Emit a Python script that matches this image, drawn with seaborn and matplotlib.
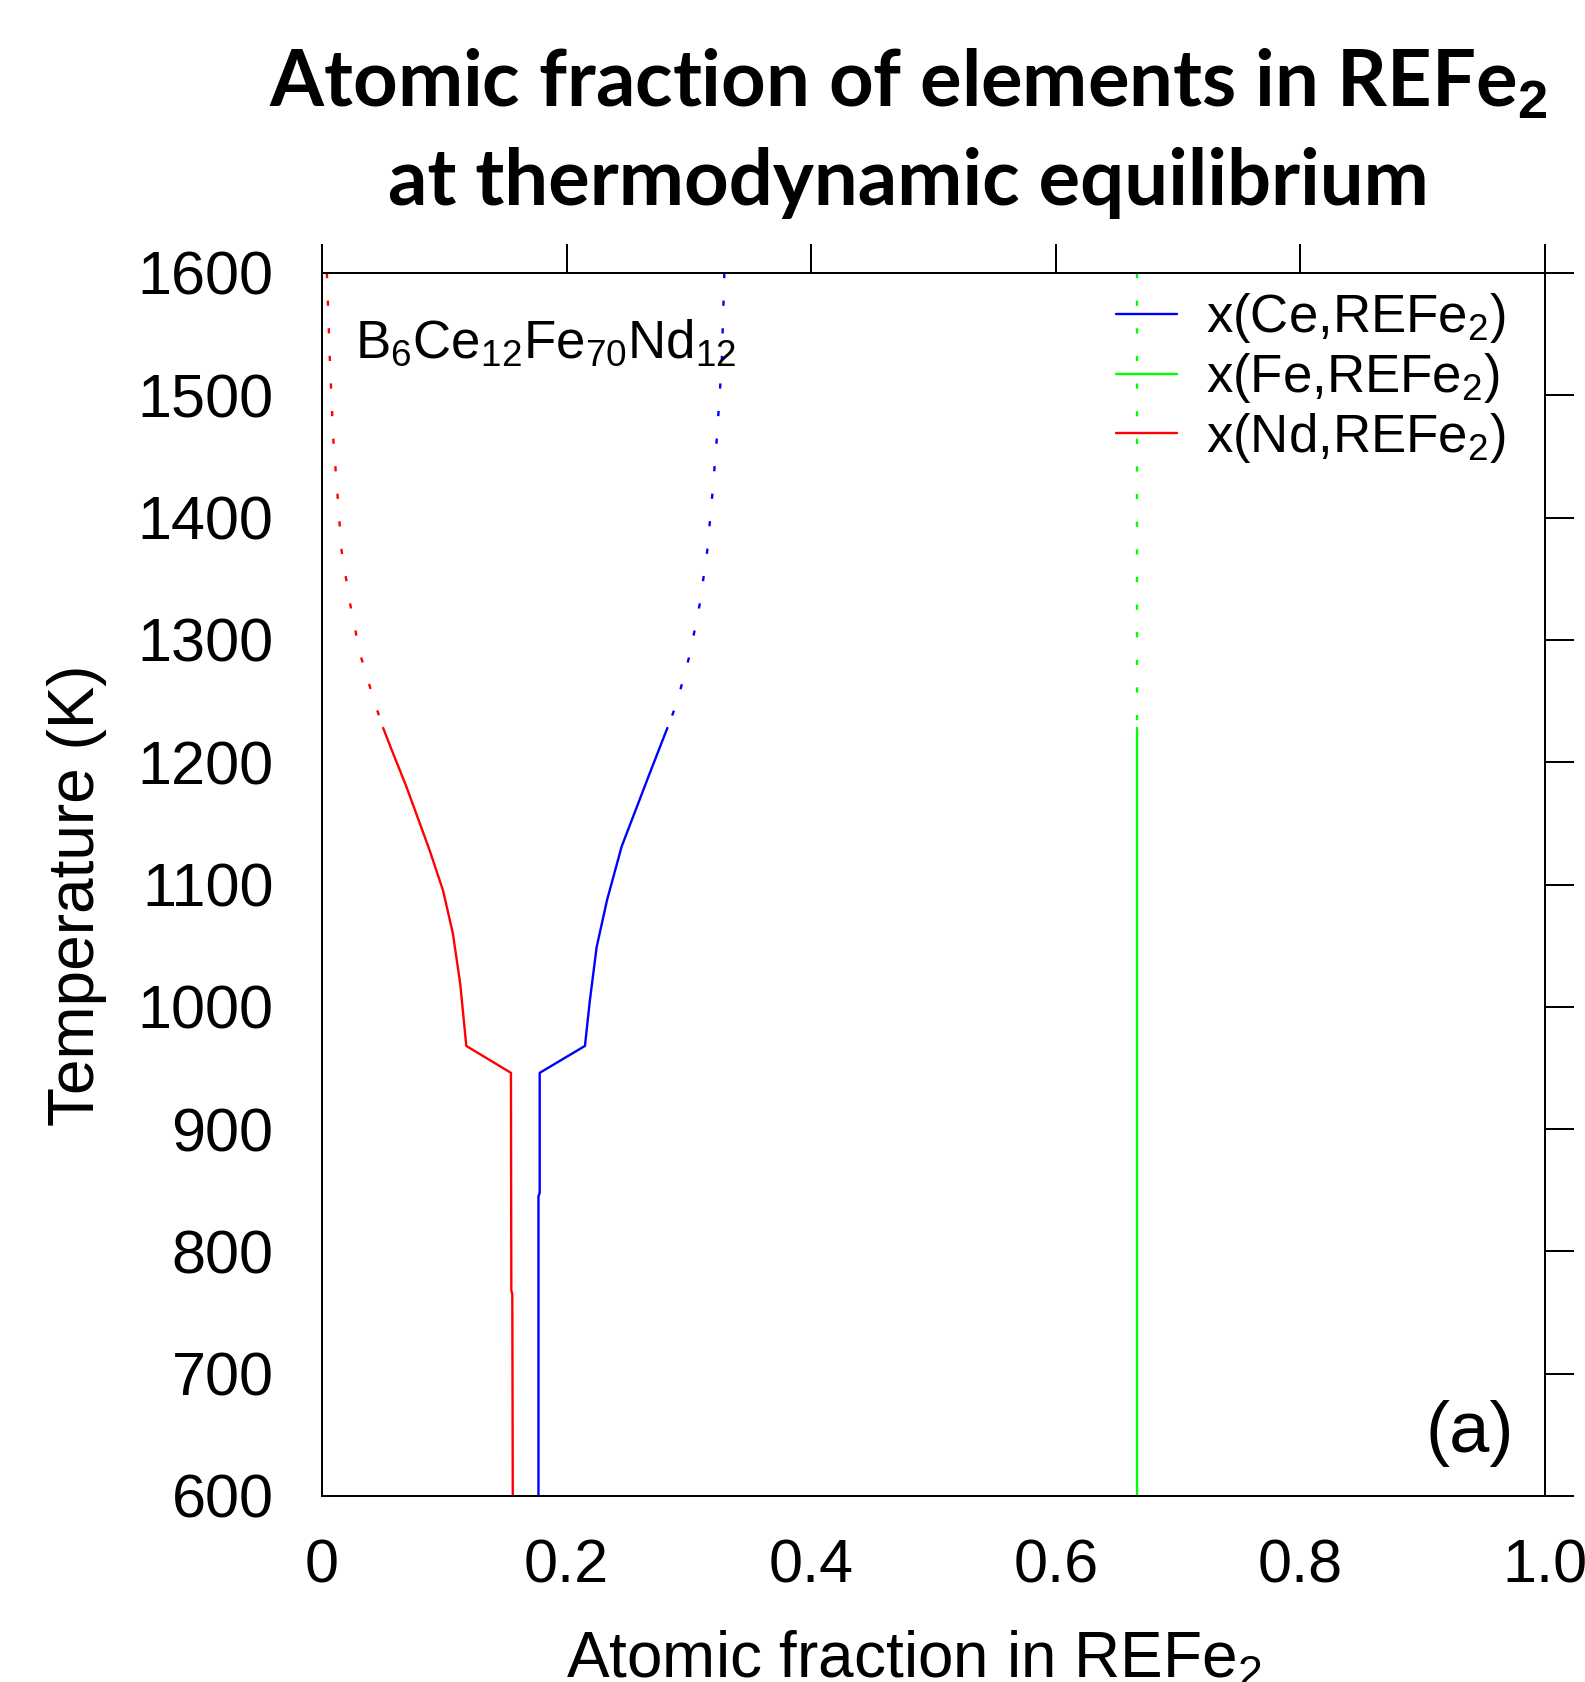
import matplotlib
matplotlib.use("Agg")
import matplotlib.pyplot as plt
import seaborn as sns
import numpy as np
import pandas as pd

# Temperatures (K) and atomic fractions
T_nd = [1600, 1526, 1463, 1417, 1373, 1330, 1289, 1248, 1228,
        1210, 1180, 1128, 1095, 1060, 1019, 968, 946, 768, 765, 600]
x_nd = [0.004, 0.0065, 0.0093, 0.0128, 0.016, 0.0229, 0.031, 0.0433, 0.050,
        0.057, 0.069, 0.088, 0.099, 0.107, 0.113, 0.118, 0.1545, 0.1548, 0.1556, 0.156]

T_ce = [1600, 1526, 1463, 1417, 1373, 1330, 1289, 1248, 1228,
        1191, 1131, 1087, 1049, 1005, 968, 946, 848, 845, 600]
x_ce = [0.329, 0.3268, 0.3227, 0.319, 0.315, 0.309, 0.301, 0.290, 0.2824,
        0.268, 0.245, 0.233, 0.2246, 0.219, 0.215, 0.178, 0.178, 0.177, 0.177]

T_fe = [1600, 1228, 600]
x_fe = [0.6667, 0.6667, 0.6667]

T_stable = 1228   # above this REFe2 is metastable (dotted)

labels = [r'x(Ce,REFe$_2$)', r'x(Fe,REFe$_2$)', r'x(Nd,REFe$_2$)']
colors = ['#0000ff', '#00ff00', '#ff0000']

sns.set_theme(style='white')
plt.rcParams['font.family'] = ['Liberation Sans', 'DejaVu Sans']
plt.rcParams['mathtext.fontset'] = 'custom'
plt.rcParams['mathtext.rm'] = 'Liberation Sans'
plt.rcParams['mathtext.it'] = 'Liberation Sans:italic'
plt.rcParams['mathtext.bf'] = 'Liberation Sans:bold'
plt.rcParams['text.color'] = 'black'
plt.rcParams['axes.labelcolor'] = 'black'

fig = plt.figure(figsize=(15.85, 16.82), dpi=100)
ax = fig.add_axes([322/1585, 1 - 1496/1682, 1223/1585, 1223/1682])

series = [(T_ce, x_ce), (T_fe, x_fe), (T_nd, x_nd)]
handles = []
for (T, x), c, lab in zip(series, colors, labels):
    df = pd.DataFrame({'T': T, 'x': x})
    hi = df[df['T'] >= T_stable]
    lo = df[df['T'] <= T_stable]
    sns.lineplot(data=hi, x='x', y='T', sort=False, estimator=None, ax=ax,
                 color=c, lw=1.7, linestyle=(0, (2.2, 9.5)))
    sns.lineplot(data=lo, x='x', y='T', sort=False, estimator=None, ax=ax,
                 color=c, lw=1.7)
    handles.append(plt.Line2D([], [], color=c, lw=1.7, label=lab))

ax.set_xlim(0, 1)
ax.set_ylim(600, 1600)
ax.set_xticks([0, 0.2, 0.4, 0.6, 0.8, 1.0])
ax.set_xticklabels(['0', '0.2', '0.4', '0.6', '0.8', '1.0'])
ax.set_yticks(np.arange(600, 1601, 100))
ax.tick_params(which='both', direction='out', length=20.9, width=1.44,
               top=True, right=True, labelsize=44, colors='black')
ax.tick_params(axis='y', pad=14)
ax.tick_params(axis='x', pad=10)
for s in ax.spines.values():
    s.set_linewidth(1.44)
    s.set_color('black')

ax.set_xlabel(r'Atomic fraction in REFe$_2$', fontsize=46)
ax.xaxis.set_label_coords(0.484, -0.1488)
ax.xaxis.label.set_va('baseline')
ax.set_ylabel('Temperature (K)', fontsize=46)
ax.yaxis.set_label_coords(-0.2, 0.491)
ax.yaxis.label.set_va('center')

ax.legend(handles=handles, loc='upper left', bbox_to_anchor=(0.6495, 0.985),
          frameon=False, fontsize=38, handlelength=1.15, handletextpad=0.55,
          labelspacing=0.11, borderpad=0, borderaxespad=0)

ax.text(0.027, 0.931, r'B$_6$Ce$_{12}$Fe$_{70}$Nd$_{12}$', transform=ax.transAxes,
        fontsize=38, ha='left', va='baseline')
ax.text(0.975, 0.036, '(a)', transform=ax.transAxes, fontsize=52,
        ha='right', va='baseline')

fig.text(908/1585, 1 - 107/1682, r'Atomic fraction of elements in REFe$_\mathbf{2}$',
         fontsize=56, family=['Lato', 'DejaVu Sans'], weight='bold',
         ha='center', va='baseline', color='black')
fig.text(908/1585, 1 - 205/1682, 'at thermodynamic equilibrium',
         fontsize=56, family=['Lato', 'DejaVu Sans'], weight='bold',
         ha='center', va='baseline', color='black')

fig.savefig('out.png', dpi=100)
